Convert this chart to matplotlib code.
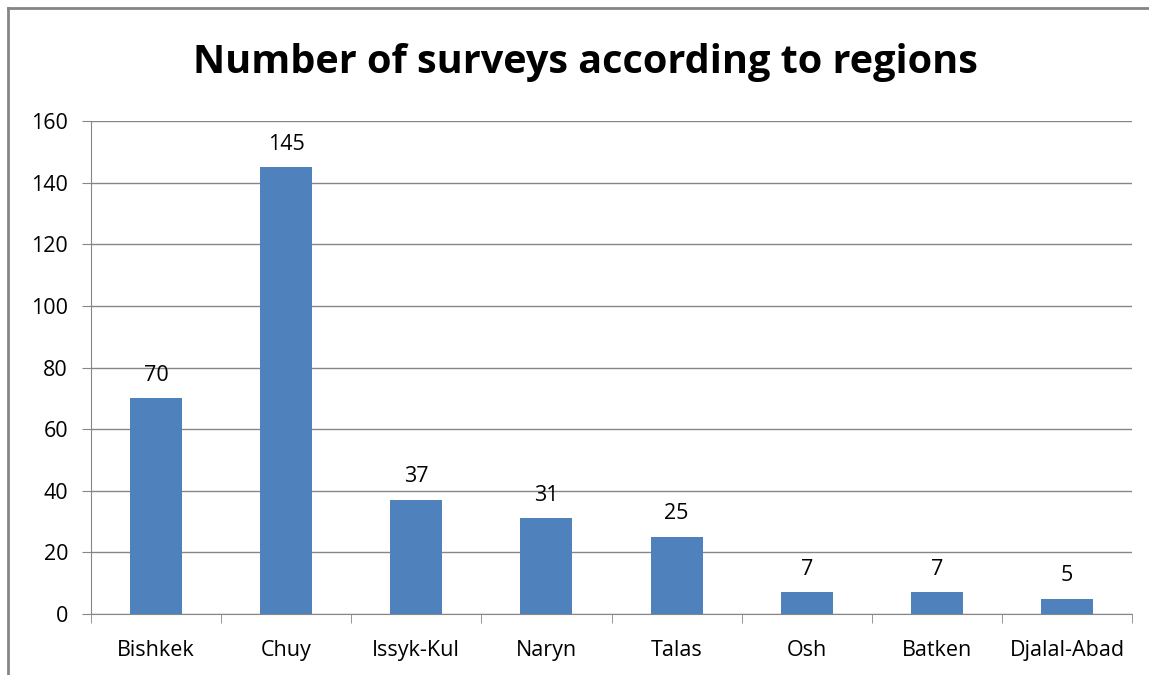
import matplotlib
matplotlib.use("Agg")
import matplotlib.pyplot as plt
from matplotlib.lines import Line2D
import numpy as np

categories = ["Bishkek", "Chuy", "Issyk-Kul", "Naryn", "Talas", "Osh", "Batken", "Djalal-Abad"]
values = [70, 145, 37, 31, 25, 7, 7, 5]
yticks = [0, 20, 40, 60, 80, 100, 120, 140, 160]

plt.rcParams['font.family'] = ['Open Sans', 'DejaVu Sans']

fig = plt.figure(figsize=(11.49, 6.75), dpi=100)
ax = fig.add_axes([91/1149, 1-614/675, (1132-91)/1149, (614-121)/675])

x = np.arange(len(categories))
ax.bar(x, values, width=0.4, color="#4F81BD", zorder=3)
for xi, v in zip(x, values):
    ax.annotate(str(v), (xi, v), xytext=(0, 9), textcoords="offset points",
                ha="center", va="bottom", fontsize=15.5, color="#000000")

ax.set_xlim(-0.5, len(categories) - 0.5)
ax.set_ylim(0, 160)
ax.set_yticks(yticks)
ax.set_yticklabels([str(t) for t in yticks], fontsize=15.5)
ax.set_xticks(x)
ax.set_xticklabels(categories, fontsize=15.5)
ax.tick_params(axis="x", length=0, pad=19)
ax.tick_params(axis="y", length=6.5, color="#868686", pad=10)
ax.set_xticks(np.arange(-0.5, len(categories)), minor=True)
ax.tick_params(axis="x", which="minor", length=6.5, color="#868686")
ax.yaxis.grid(True, color="#868686", linewidth=1, zorder=0)
for s in ["top", "right"]:
    ax.spines[s].set_visible(False)
ax.spines["left"].set_color("#868686")
ax.spines["bottom"].set_color("#868686")

fig.text(585/1149, 1-63/675, "Number of surveys according to regions", ha="center", va="center",
         fontsize=28.5, fontweight="bold")

# outer frame (top and left edges visible)
fig.add_artist(Line2D([8/1149, 8/1149], [0, 1-8/675], transform=fig.transFigure, color="#868686", lw=2))
fig.add_artist(Line2D([8/1149, 1], [1-8/675, 1-8/675], transform=fig.transFigure, color="#868686", lw=2))

fig.savefig("out.png", dpi=100)
